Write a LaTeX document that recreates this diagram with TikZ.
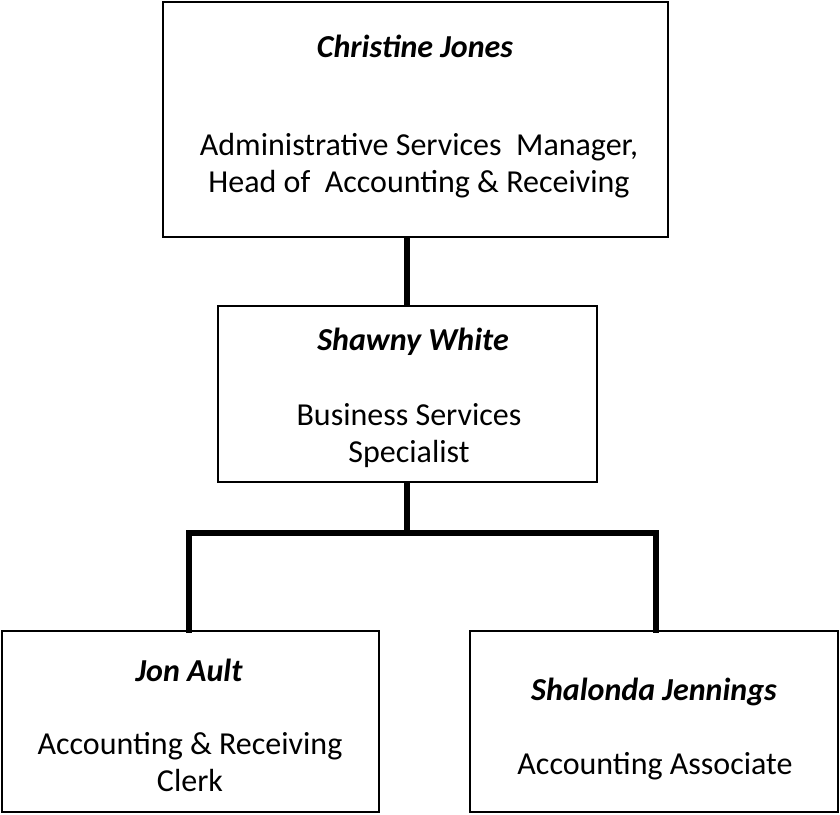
\documentclass[tikz,border=0pt]{standalone}
\usepackage{fontspec}
\setmainfont{Carlito}
\begin{document}
\begin{tikzpicture}[x=1pt,y=-1pt,
  box/.style={draw=black, line width=2pt, rectangle, inner sep=0pt, fill=white},
  conn/.style={draw=black, line width=6pt},
  person/.style={font=\fontsize{32}{37}\selectfont\bfseries\itshape, inner sep=0pt, anchor=base},
  role/.style={font=\fontsize{32}{37}\selectfont, inner sep=0pt, align=center, anchor=base}]
\useasboundingbox (0,0) rectangle (840,814);
% boxes
\node[box, minimum width=505pt, minimum height=235pt] (cj) at (415.5,119.5) {};
\node[box, minimum width=379pt, minimum height=176pt] (sw) at (407.5,394) {};
\node[box, minimum width=377pt, minimum height=181pt] (ja) at (190.5,721.5) {};
\node[box, minimum width=368pt, minimum height=181pt] (sj) at (654,721.5) {};
% connectors
\coordinate (bl) at (189,533);
\coordinate (br) at (656,533);
\coordinate (bm) at (407,533);
\draw[conn] (bm |- cj.south) -- (bm |- sw.north);
\draw[conn] (bm |- sw.south) -- (bm);
\draw[conn, line cap=rect] (bl |- ja.north) -- (bl) -- (br) -- (br |- sj.north);
% texts
\node[person] (cjn) at (415,57) {Christine Jones};
\node[role] (cjr) at (419,192) {Administrative Services\ \ Manager,\\Head of\ \ Accounting \& Receiving};
\node[person] (swn) at (413,350) {Shawny White};
\node[role] (swr) at (409,462) {Business Services\\Specialist};
\node[person] (jan) at (189,681) {Jon Ault};
\node[role] (jar) at (190,791) {Accounting \& Receiving\\Clerk};
\node[person] (sjn) at (654,700) {Shalonda Jennings};
\node[role] (sjr) at (655,774) {Accounting Associate};
\end{tikzpicture}
\end{document}
